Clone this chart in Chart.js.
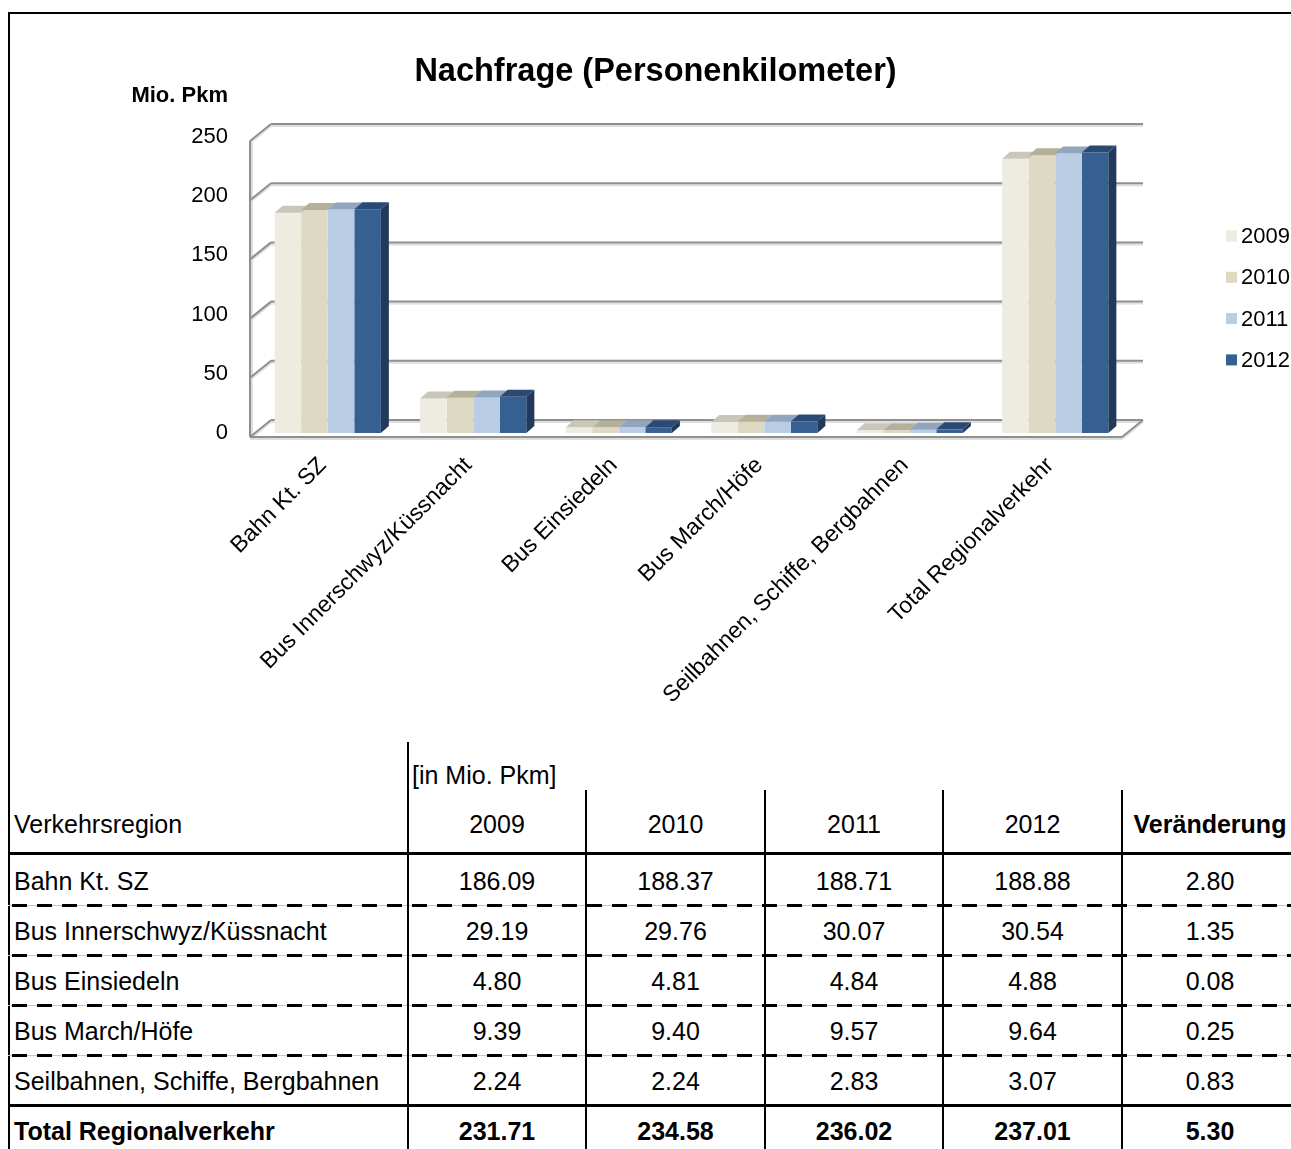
<!DOCTYPE html>
<html>
<head>
<meta charset="utf-8">
<script src="https://cdn.jsdelivr.net/npm/chart.js@4.4.1/dist/chart.umd.min.js"></script>
<style>
html, body { margin: 0; padding: 0; background: #fff; overflow: hidden; width: 1291px; height: 1149px; }
body { position: relative; font-family: "Liberation Sans", Arial, sans-serif; color: #000; }
#frame { position: absolute; left: 8px; top: 12px; width: 1400px; height: 1200px; border-left: 2px solid #000; border-top: 2px solid #000; }
#chartBox { position: absolute; left: 10px; top: 15px; width: 1291px; height: 725px; }
.cell { position: absolute; font-size: 25px; line-height: 30px; white-space: nowrap; }
.vline { position: absolute; width: 2px; background: #000; }
.hline { position: absolute; height: 3px; background: #000; }
.dline { position: absolute; height: 3px; background: repeating-linear-gradient(to right, #000 0 15px, transparent 15px 25px); }
.gline { position: absolute; height: 1px; background: #c8c8c8; }
</style>
</head>
<body>
<div id="frame"></div>
<div id="chartBox"><canvas id="chart"></canvas></div>
<div id="table"></div>
<script>
const categories = [
    'Bahn Kt. SZ',
    'Bus Innerschwyz/Küssnacht',
    'Bus Einsiedeln',
    'Bus March/Höfe',
    'Seilbahnen, Schiffe, Bergbahnen',
    'Total Regionalverkehr'
];
const years = ['2009', '2010', '2011', '2012'];
const values2009 = [186.09, 29.19, 4.80, 9.39, 2.24, 231.71];
const values2010 = [188.37, 29.76, 4.81, 9.40, 2.24, 234.58];
const values2011 = [188.71, 30.07, 4.84, 9.57, 2.83, 236.02];
const values2012 = [188.88, 30.54, 4.88, 9.64, 3.07, 237.01];
const changes = [2.80, 1.35, 0.08, 0.25, 0.83, 5.30];
const yTicks = [0, 50, 100, 150, 200, 250];

const seriesValues = [values2009, values2010, values2011, values2012];
const frontColors = ['#eeece1', '#ddd9c3', '#b9cde5', '#376092'];
const topColors = ['#c9c6ba', '#b5b09a', '#91a5bf', '#2a4a74'];
const sideColor = '#21395b';

const FONT = '"Liberation Sans", Arial, sans-serif';
Chart.defaults.font.family = FONT;
Chart.defaults.color = '#000';

function poly(ctx, pts, color) {
    ctx.beginPath();
    ctx.moveTo(pts[0][0], pts[0][1]);
    for (let k = 1; k < pts.length; k++) ctx.lineTo(pts[k][0], pts[k][1]);
    ctx.closePath();
    ctx.fillStyle = color;
    ctx.fill();
}

function seg(ctx, x1, y1, x2, y2) {
    ctx.beginPath();
    ctx.moveTo(x1, y1);
    ctx.lineTo(x2, y2);
    ctx.stroke();
}

// back wall, left wall and floor of the 3d box
const walls3d = {
    id: 'walls3d',
    beforeDatasetsDraw(chart) {
        const { ctx, chartArea, scales } = chart;
        const y = scales.y;
        const fl = chartArea.left - 5, fr = chartArea.right - 6;
        const dx = 21, dy = -17;
        const rows = yTicks.map(v => y.getPixelForValue(v) + 4);
        ctx.save();
        [['#dedede', 2, 2], ['#8f8f8f', 2, 0]].forEach(([color, w, off]) => {
            ctx.strokeStyle = color;
            ctx.lineWidth = w;
            rows.forEach(fy => {
                seg(ctx, fl + dx, fy + dy + off, fr + dx, fy + dy + off);
                seg(ctx, fl, fy + off, fl + dx, fy + dy + off);
            });
            seg(ctx, fl + off, rows[rows.length - 1], fl + off, rows[0]);
            seg(ctx, fl, rows[0] + off, fr, rows[0] + off);
            seg(ctx, fr, rows[0] + off, fr + dx, rows[0] + dy + off);
        });
        ctx.restore();
    }
};

// top and side faces of the bars
const bars3d = {
    id: 'bars3d',
    afterDatasetsDraw(chart) {
        const { ctx } = chart;
        const dx = 8, dy = -7;
        const last = chart.data.datasets.length - 1;
        ctx.save();
        categories.forEach((c, j) => {
            chart.data.datasets.forEach((ds, i) => {
                const bar = chart.getDatasetMeta(i).data[j];
                const { x, y, base, width } = bar.getProps(['x', 'y', 'base', 'width'], true);
                const x1 = x - width / 2, x2 = x + width / 2;
                poly(ctx, [[x1, y], [x2, y], [x2 + dx, y + dy], [x1 + dx, y + dy]], topColors[i]);
                if (i === last) {
                    poly(ctx, [[x2, y], [x2 + dx, y + dy], [x2 + dx, base + dy], [x2, base]], sideColor);
                }
            });
        });
        ctx.restore();
    }
};

// unit label and the legend on the right
const extras = {
    id: 'extras',
    afterDraw(chart) {
        const { ctx, chartArea } = chart;
        ctx.save();
        ctx.fillStyle = '#000';
        ctx.font = 'bold 22px ' + FONT;
        ctx.textAlign = 'right';
        ctx.textBaseline = 'middle';
        ctx.fillText('Mio. Pkm', chartArea.left - 27, chartArea.top - 41);
        ctx.font = '22px ' + FONT;
        ctx.textAlign = 'left';
        years.forEach((yr, i) => {
            const cy = chartArea.top + 99 + 41.3 * i;
            ctx.fillStyle = frontColors[i];
            ctx.fillRect(chartArea.right + 98, cy - 5.5, 11, 11);
            ctx.fillStyle = '#000';
            ctx.fillText(yr, chartArea.right + 113, cy + 1);
        });
        ctx.restore();
    }
};

new Chart(document.getElementById('chart'), {
    type: 'bar',
    data: {
        labels: categories,
        datasets: years.map((yr, i) => ({
            label: yr,
            data: seriesValues[i],
            backgroundColor: frontColors[i],
            borderWidth: 0,
            categoryPercentage: 0.73,
            barPercentage: 1.0
        }))
    },
    options: {
        responsive: true,
        maintainAspectRatio: false,
        animation: false,
        layout: { padding: 0 },
        plugins: {
            legend: { display: false },
            tooltip: { enabled: false },
            title: {
                display: true,
                text: 'Nachfrage (Personenkilometer)',
                font: { size: 32.5, weight: 'bold' },
                color: '#000',
                padding: { top: 38, bottom: 45 }
            }
        },
        scales: {
            x: {
                grid: { display: false },
                border: { display: false },
                ticks: {
                    autoSkip: false,
                    minRotation: 45,
                    maxRotation: 45,
                    padding: 11,
                    labelOffset: -5,
                    font: { size: 23 }
                },
                afterFit(s) { s.height = 307; }
            },
            y: {
                min: 0,
                max: 250,
                grid: { display: false, drawTicks: false },
                border: { display: false },
                ticks: {
                    stepSize: 50,
                    padding: 27,
                    font: { size: 22 }
                },
                afterFit(s) { s.width = 245; }
            },
            // empty right-hand scale that keeps room for the legend
            side: {
                position: 'right',
                grid: { display: false },
                border: { display: false },
                ticks: { display: false },
                afterFit(s) { s.width = 173; }
            }
        }
    },
    plugins: [walls3d, bars3d, extras]
});

// data table below the chart
const table = document.getElementById('table');
const colEdges = [8, 408, 586, 765, 943, 1122, 1298];

function addEl(cls, style, text, bold) {
    const el = document.createElement('div');
    el.className = cls;
    Object.assign(el.style, style);
    if (text !== undefined) el.textContent = text;
    if (bold) el.style.fontWeight = 'bold';
    table.appendChild(el);
    return el;
}

function textCell(text, col, cy, bold) {
    const left = colEdges[col], w = colEdges[col + 1] - colEdges[col];
    if (col === 0) {
        addEl('cell', { left: (left + 6) + 'px', top: (cy - 15) + 'px' }, text, bold);
    } else {
        addEl('cell', { left: left + 'px', width: w + 'px', textAlign: 'center', top: (cy - 15) + 'px' }, text, bold);
    }
}

addEl('cell', { left: '412px', top: (775 - 15) + 'px' }, '[in Mio. Pkm]');
textCell('Verkehrsregion', 0, 824);
years.forEach((yr, i) => textCell(yr, i + 1, 824));
textCell('Veränderung', 5, 824, true);

categories.forEach((cat, r) => {
    const cy = 881 + 50 * r;
    const bold = r === categories.length - 1;
    textCell(cat, 0, cy, bold);
    seriesValues.forEach((vals, i) => textCell(vals[r].toFixed(2), i + 1, cy, bold));
    textCell(changes[r].toFixed(2), 5, cy, bold);
});

addEl('hline', { left: '8px', top: '852px', width: '1300px' });
for (let r = 0; r < categories.length - 2; r++) {
    const ly = 904 + 50 * r;
    addEl('gline', { left: '8px', top: (ly + 1) + 'px', width: '1300px' });
    addEl('dline', { left: '12px', top: ly + 'px', width: '1300px' });
}
addEl('hline', { left: '8px', top: '1104px', width: '1300px' });
addEl('vline', { left: '407px', top: '742px', height: '420px' });
colEdges.slice(2, 6).forEach(x => addEl('vline', { left: (x - 1) + 'px', top: '790px', height: '370px' }));
</script>
</body>
</html>
